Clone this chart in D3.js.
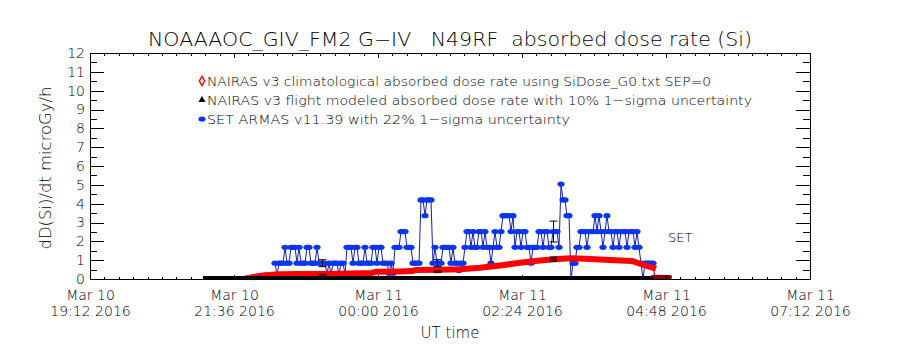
<!DOCTYPE html>
<html>
<head>
<meta charset="utf-8">
<script src="https://cdn.jsdelivr.net/npm/d3@7/dist/d3.min.js"></script>
<style>
  html, body { margin: 0; padding: 0; background: #fff; }
  svg { display: block; }
  text { font-family: "DejaVu Sans", "Liberation Sans", sans-serif; font-weight: 200; fill: #000; }
  .axis path, .axis line { stroke: #000; stroke-width: 1; shape-rendering: crispEdges; }
</style>
</head>
<body>
<div id="chart"></div>
<script>
// ARMAS / NAIRAS absorbed dose rate along the G-IV flight, 10-11 Mar 2016.

// SET ARMAS v11.39, 2-minute samples starting 22:17 UT (microGy/h)
const armasStart = '2016-03-10T22:17:00Z';
const armasStepMin = 2;
const armasValues = [
  0.84, 0.2, 0.84, 0.84, 0.84, 1.68, 0.84, 0.84, 1.68, 1.68,
  1.68, 0.84, 1.68, 0.84, 0.84, 0.84, 1.68, 1.68, 0.84, 0.84,
  0.84, 1.68, 0.84, 0.84, 0.84, 0.84, 0.25, 0.84, 0.25, 0.84,
  0.84, 0.84, 0.25, 0.84, 0.84, 0.25, 1.68, 1.68, 1.68, 0.84,
  1.68, 1.68, 0.84, 0.84, 0.84, 1.68, 0.84, 0.84, 0.84, 1.68,
  1.68, 0.84, 1.68, 1.68, 0.84, 0.84, 0.84, 0.3, 0.84, 0.3,
  1.68, 1.68, 1.68, 2.52, 2.52, 2.52, 1.68, 1.68, 1.68, 0.84,
  0.84, 0.84, 0.84, 4.2, 4.2, 3.36, 4.2, 4.2, 4.2, 0.84,
  1.68, 0.84, 0.84, 0.84, 1.68, 1.68, 1.68, 1.68, 0.84, 1.68,
  0.84, 0.84, 0.45, 0.84, 0.84, 1.68, 2.52, 2.52, 1.68, 2.52,
  1.68, 1.68, 2.52, 2.52, 1.68, 2.52, 1.68, 1.68, 0.84, 1.68,
  2.52, 1.68, 1.68, 2.52, 3.36, 3.36, 3.36, 3.36, 2.52, 3.36,
  1.68, 2.52, 2.52, 1.68, 2.52, 2.52, 1.68, 1.68, 0.84, 1.68,
  1.68, 1.68, 2.52, 2.52, 1.68, 2.52, 2.52, 1.68, 1.68, 2.52,
  2.52, 2.52, 1.68, 5.04, 4.2, 4.2, 3.36, 3.36, 0, 0.84,
  0.84, 1.68, 1.68, 2.52, 2.52, 2.52, 1.68, 2.52, 2.52, 2.52,
  3.36, 2.52, 3.36, 2.52, 1.68, 2.52, 3.36, 2.52, 2.52, 1.68,
  2.52, 2.52, 1.68, 2.52, 2.52, 2.52, 1.68, 2.52, 2.52, 2.52,
  1.68, 2.52, 1.68, 0.84, 0, 0.84, 0.84, 0.84, 0.84, 0.84, 0
];

// NAIRAS v3 climatological dose rate (SiDose_G0, SEP=0)
const climTimes = ['21:47', '21:57', '22:07', '22:22', '22:42', '23:02', '23:22', '23:42',
  '23:54', '23:58', '00:22', '00:34', '00:38', '01:02', '01:22', '01:42', '02:02', '02:22',
  '02:42', '02:57', '03:12', '03:27', '03:42', '04:02', '04:14', '04:20', '04:27', '04:34', '04:38'];
const climValues = [0.02, 0.12, 0.2, 0.25, 0.26, 0.27, 0.28, 0.3,
  0.32, 0.38, 0.4, 0.42, 0.48, 0.49, 0.52, 0.6, 0.72, 0.86,
  0.98, 1.05, 1.1, 1.08, 1.03, 0.98, 0.96, 0.85, 0.72, 0.62, 0.55];
const climTailTimes = ['04:35', '04:52'];
const climTailValues = [0.12, 0.1];

// NAIRAS v3 flight modeled: track at zero and the 2-hourly model points
const flightTrackTimes = ['21:05', '04:52'];
const flightTrackValues = [0, 0];
const flightTimes = ['23:04', '00:59', '02:55'];
const flightValues = [0.22, 0.39, 1.06];
const flightSigma = 0.10;

// ARMAS 1-sigma error bars at the same times
const armasErrTimes = ['23:04', '00:59', '02:55'];
const armasErrValues = [0.84, 0.84, 2.52];
const armasSigma = 0.22;

const yTicks = [0, 1, 2, 3, 4, 5, 6, 7, 8, 9, 10, 11, 12];
const xTickDays = ['Mar 10', 'Mar 10', 'Mar 11', 'Mar 11', 'Mar 11', 'Mar 11'];
const xTickTimes = ['19:12 2016', '21:36 2016', '00:00 2016', '02:24 2016', '04:48 2016', '07:12 2016'];

const legendItems = [
  'NAIRAS v3 climatological absorbed dose rate using SiDose_G0.txt SEP=0',
  'NAIRAS v3 flight modeled absorbed dose rate with 10% 1\u2212sigma uncertainty',
  'SET ARMAS v11.39 with 22% 1\u2212sigma uncertainty'
];
const legendWidths = [504, 545, 363];

const W = 900, H = 350;
const M = { left: 90, right: 90, top: 53, bottom: 71 };

const toDate = (hm) => {
  const [h, m] = hm.split(':').map(Number);
  const day = h >= 12 ? 10 : 11;
  return new Date(Date.UTC(2016, 2, day, h, m));
};

const t0 = new Date(Date.UTC(2016, 2, 10, 19, 12));
const t1 = new Date(Date.UTC(2016, 2, 11, 7, 12));
const x = d3.scaleUtc().domain([t0, t1]).range([M.left, W - M.right]);
const y = d3.scaleLinear().domain([0, 12]).range([H - M.bottom, M.top]);

const svg = d3.select('#chart').append('svg').attr('width', W).attr('height', H);

// clip data to the plot box, like IDL does
svg.append('clipPath').attr('id', 'plotclip')
  .append('rect')
  .attr('x', M.left).attr('y', M.top)
  .attr('width', W - M.left - M.right).attr('height', H - M.top - M.bottom);
const plot = svg.append('g').attr('clip-path', 'url(#plotclip)');

// ---- data layers ----
const armas = armasValues.map((v, i) => ({
  t: new Date(Date.parse(armasStart) + i * armasStepMin * 60000), v
}));

const line = d3.line().x((d) => x(d.t)).y((d) => y(d.v));

plot.append('path')
  .datum(armas)
  .attr('d', line)
  .attr('fill', 'none')
  .attr('stroke', '#1420a8')
  .attr('stroke-width', 1);

plot.append('g').selectAll('ellipse')
  .data(armas)
  .join('ellipse')
  .attr('cx', (d) => x(d.t))
  .attr('cy', (d) => y(d.v))
  .attr('rx', 3.6)
  .attr('ry', 2.6)
  .attr('fill', '#0a35f5');

const clim = climTimes.map((t, i) => ({ t: toDate(t), v: climValues[i] }));
plot.append('path')
  .datum(clim)
  .attr('d', line)
  .attr('fill', 'none')
  .attr('stroke', '#ff0000')
  .attr('stroke-width', 6)
  .attr('stroke-linejoin', 'round');

const track = flightTrackTimes.map((t, i) => ({ t: toDate(t), v: flightTrackValues[i] }));
plot.append('path')
  .datum(track)
  .attr('d', line)
  .attr('transform', 'translate(0,-1.5)')
  .attr('stroke', '#000')
  .attr('stroke-width', 3);

const tail = climTailTimes.map((t, i) => ({ t: toDate(t), v: climTailValues[i] }));
plot.append('path')
  .datum(tail)
  .attr('d', line)
  .attr('stroke', '#8a0000')
  .attr('stroke-width', 4)
  .attr('stroke-linecap', 'round');

// error bars (black I-beams)
function errBars(times, values, sigma) {
  const g = plot.append('g').attr('stroke', '#000').attr('stroke-width', 1);
  times.forEach((tm, i) => {
    const cx = Math.round(x(toDate(tm))) + 0.5;
    const lo = y(values[i] * (1 - sigma)), hi = y(values[i] * (1 + sigma));
    g.append('line').attr('x1', cx).attr('x2', cx).attr('y1', lo).attr('y2', hi);
    g.append('line').attr('x1', cx - 4).attr('x2', cx + 4).attr('y1', lo).attr('y2', lo);
    g.append('line').attr('x1', cx - 4).attr('x2', cx + 4).attr('y1', hi).attr('y2', hi);
  });
}
errBars(armasErrTimes, armasErrValues, armasSigma);
errBars(flightTimes, flightValues, flightSigma);

plot.append('g').selectAll('rect')
  .data(flightTimes.map((t, i) => ({ t: toDate(t), v: flightValues[i] })))
  .join('rect')
  .attr('x', (d) => x(d.t) - 3.5)
  .attr('y', (d) => y(d.v) - 1)
  .attr('width', 7)
  .attr('height', 2.5)
  .attr('fill', '#5a0000');

// ---- axes (IDL-style box, ticks pointing inward) ----
const minorX = d3.range(0, 51).map((i) => new Date(+t0 + i * 14.4 * 60000));
const majorX = d3.range(0, 6).map((i) => new Date(+t0 + i * 144 * 60000));
const minorY = d3.range(0, 24).map((i) => i * 0.5 + 0.5);
const x0 = M.left, x1 = W - M.right, y0 = H - M.bottom, y1 = M.top;

svg.append('g').attr('class', 'axis')
  .attr('transform', `translate(0,${y0})`)
  .call(d3.axisBottom(x).tickValues(minorX).tickSize(-2.5).tickFormat(''));
const xAxis = svg.append('g').attr('class', 'axis')
  .attr('transform', `translate(0,${y0})`)
  .call(d3.axisBottom(x).tickValues(majorX).tickSizeInner(-4.5).tickSizeOuter(0).tickPadding(8));
xAxis.selectAll('text').each(function (d, i) {
  const t = d3.select(this).text(null).attr('font-size', 14).attr('dy', null);
  t.append('tspan').attr('x', 0).attr('dy', '0.95em').text(xTickDays[i]);
  t.append('tspan').attr('x', 0).attr('dy', '1.15em').text(xTickTimes[i]);
});

svg.append('g').attr('class', 'axis')
  .attr('transform', `translate(0,${y1})`)
  .call(d3.axisTop(x).tickValues(minorX).tickSize(-2.5).tickFormat(''));
svg.append('g').attr('class', 'axis')
  .attr('transform', `translate(0,${y1})`)
  .call(d3.axisTop(x).tickValues(majorX).tickSize(-4.5).tickFormat(''));

svg.append('g').attr('class', 'axis')
  .attr('transform', `translate(${x0},0)`)
  .call(d3.axisLeft(y).tickValues(minorY).tickSize(-7).tickFormat(''));
svg.append('g').attr('class', 'axis')
  .attr('transform', `translate(${x0},0)`)
  .call(d3.axisLeft(y).tickValues(yTicks).tickSizeInner(-14).tickSizeOuter(0).tickPadding(5))
  .selectAll('text').attr('font-size', 14);

svg.append('g').attr('class', 'axis')
  .attr('transform', `translate(${x1},0)`)
  .call(d3.axisRight(y).tickValues(minorY).tickSize(-7).tickFormat(''));
svg.append('g').attr('class', 'axis')
  .attr('transform', `translate(${x1},0)`)
  .call(d3.axisRight(y).tickValues(yTicks).tickSize(-14).tickFormat(''));

svg.selectAll('.axis .domain').attr('stroke', '#000');
svg.selectAll('.axis text').style('font-family', null);

// ---- labels ----
svg.append('text')
  .attr('x', 148).attr('y', 46)
  .attr('font-size', 19)
  .attr('textLength', 604)
  .attr('lengthAdjust', 'spacingAndGlyphs')
  .style('white-space', 'pre')
  .text('NOAAAOC_GIV_FM2 G\u2212IV   N49RF  absorbed dose rate (Si)');

svg.append('text')
  .attr('transform', 'translate(51,168) rotate(-90)')
  .attr('text-anchor', 'middle')
  .attr('font-size', 16)
  .attr('textLength', 163)
  .attr('lengthAdjust', 'spacingAndGlyphs')
  .text('dD(Si)/dt microGy/h');

svg.append('text')
  .attr('x', 450).attr('y', 338)
  .attr('text-anchor', 'middle')
  .attr('font-size', 15)
  .text('UT time');

svg.append('text')
  .attr('x', 668).attr('y', 242)
  .attr('font-size', 13)
  .text('SET');

// ---- legend ----
const legY = [81, 100, 119];
const lg = svg.append('g');
legendItems.forEach((s, i) => {
  lg.append('text')
    .attr('x', 207).attr('y', legY[i] + 5)
    .attr('font-size', 13)
    .attr('textLength', legendWidths[i])
    .attr('lengthAdjust', 'spacingAndGlyphs')
    .text(s);
});
lg.append('path')
  .attr('d', d3.symbol(d3.symbolDiamond, 24)())
  .attr('transform', `translate(202,${legY[0]})`)
  .attr('fill', '#fff').attr('stroke', '#ff0000').attr('stroke-width', 1.5);
lg.append('path')
  .attr('d', d3.symbol(d3.symbolTriangle, 22)())
  .attr('transform', `translate(202,${legY[1]})`)
  .attr('fill', '#000');
lg.append('ellipse')
  .attr('cx', 202).attr('cy', legY[2]).attr('rx', 3.6).attr('ry', 2.6)
  .attr('fill', '#0a35f5');
</script>
</body>
</html>
